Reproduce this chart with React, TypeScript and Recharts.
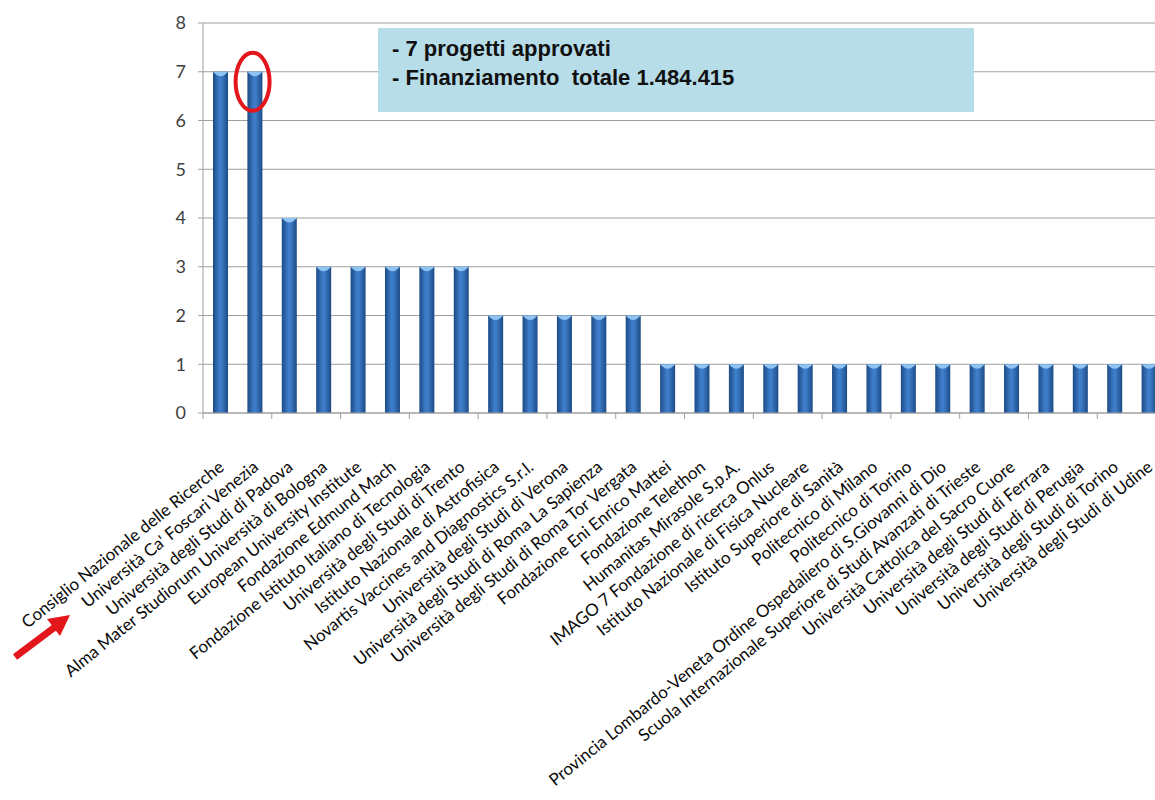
import React from "react";
import { BarChart, Bar, XAxis, YAxis, CartesianGrid, ReferenceDot } from "recharts";

// enti beneficiari, in ordine di numero di progetti
const enti = [
  "Consiglio Nazionale delle Ricerche",
  "Università Ca' Foscari Venezia",
  "Università degli Studi di Padova",
  "Alma Mater Studiorum Università di Bologna",
  "European University Institute",
  "Fondazione Edmund Mach",
  "Fondazione Istituto Italiano di Tecnologia",
  "Università degli Studi di Trento",
  "Istituto Nazionale di Astrofisica",
  "Novartis Vaccines and Diagnostics S.r.l.",
  "Università degli Studi di Verona",
  "Università degli Studi di Roma La Sapienza",
  "Università degli Studi di Roma Tor Vergata",
  "Fondazione Eni Enrico Mattei",
  "Fondazione Telethon",
  "Humanitas Mirasole S.p.A.",
  "IMAGO 7 Fondazione di ricerca Onlus",
  "Istituto Nazionale di Fisica Nucleare",
  "Istituto Superiore di Sanità",
  "Politecnico di Milano",
  "Politecnico di Torino",
  "Provincia Lombardo-Veneta Ordine Ospedaliero di S.Giovanni di Dio",
  "Scuola Internazionale Superiore di Studi Avanzati di Trieste",
  "Università Cattolica del Sacro Cuore",
  "Università degli Studi di Ferrara",
  "Università degli Studi di Perugia",
  "Università degli Studi di Torino",
  "Università degli Studi di Udine",
];

const progetti = [7, 7, 4, 3, 3, 3, 3, 3, 2, 2, 2, 2, 2, 1, 1, 1, 1, 1, 1, 1, 1, 1, 1, 1, 1, 1, 1, 1];

const yTicks = [0, 1, 2, 3, 4, 5, 6, 7, 8];

const boxLines = ["- 7 progetti approvati", "- Finanziamento  totale 1.484.415"];

const data = enti.map((name, i) => ({ name, progetti: progetti[i] }));

const AXIS = "#a0a0a0";

// bar with the excel-ish bevel on top
function BevelBar(props: any) {
  const { x, y, width, height } = props;
  if (!height || height <= 0) return null;
  return (
    <g>
      <rect x={x} y={y} width={width} height={height} fill="url(#barGrad)" />
      <path
        d={`M${x},${y} L${x + width},${y} L${x + width - 2},${y + 2} Q${x + width / 2},${y + 7} ${x + 2},${y + 2} Z`}
        fill="#8ec3f2"
      />
    </g>
  );
}

function CategoryTick(props: any) {
  const { x, y, payload, index } = props;
  const half = payload?.offset ?? 17.2;
  return (
    <g>
      {index % 2 === 0 && (
        <line x1={x - half} y1={y} x2={x - half} y2={y + 6} stroke={AXIS} />
      )}
      <text
        x={0}
        y={0}
        transform={`translate(${x + 5},${y + 56}) rotate(-39)`}
        textAnchor="end"
        fontFamily="Lato, sans-serif"
        fontSize={17}
        fill="#0a0a0a"
      >
        {payload.value}
      </text>
    </g>
  );
}

function Circle(props: any) {
  const { cx, cy } = props;
  return (
    <ellipse cx={cx - 2} cy={cy + 10} rx={17} ry={29} fill="none" stroke="#e3161b" strokeWidth={4} />
  );
}

export default function App() {
  return (
    <div
      style={{
        position: "fixed",
        left: 0,
        top: 0,
        width: 1155,
        height: 800,
        overflow: "hidden",
        background: "#fff",
      }}
    >
      <BarChart
        width={1180}
        height={800}
        data={data}
        margin={{ top: 23, right: 14, bottom: 7, left: 0 }}
        barSize={15}
      >
        <defs>
          <linearGradient id="barGrad" x1="0" y1="0" x2="1" y2="0">
            <stop offset="0%" stopColor="#1c4a85" />
            <stop offset="45%" stopColor="#3f7fcc" />
            <stop offset="60%" stopColor="#3a78c2" />
            <stop offset="100%" stopColor="#1c4a85" />
          </linearGradient>
        </defs>
        <CartesianGrid vertical={false} stroke={AXIS} />
        <XAxis
          dataKey="name"
          interval={0}
          height={380}
          tickSize={0}
          tickMargin={0}
          tickLine={false}
          axisLine={{ stroke: AXIS }}
          tick={<CategoryTick />}
        />
        <YAxis
          width={203}
          domain={[0, 8]}
          ticks={yTicks}
          interval={0}
          tickSize={5}
          tickMargin={12}
          axisLine={{ stroke: AXIS }}
          tickLine={{ stroke: AXIS }}
          tick={{ fill: "#404040", fontSize: 18, fontFamily: "Lato, sans-serif" }}
        />
        <Bar dataKey="progetti" isAnimationActive={false} shape={<BevelBar />} />
        <ReferenceDot x={enti[1]} y={progetti[1]} shape={<Circle />} />
      </BarChart>

      <div
        style={{
          position: "absolute",
          left: 378,
          top: 28,
          width: 596,
          height: 84,
          boxSizing: "border-box",
          background: "#b7dde8",
          padding: "6px 0 0 14px",
          fontFamily: "'Liberation Sans', Arial, sans-serif",
          fontWeight: "bold",
          fontSize: 22,
          lineHeight: "29px",
          color: "#111",
          whiteSpace: "pre",
        }}
      >
        {boxLines.map((l) => (
          <div key={l}>{l}</div>
        ))}
      </div>

      <svg
        width={1155}
        height={800}
        style={{ position: "absolute", left: 0, top: 0, pointerEvents: "none" }}
      >
        <line x1={15} y1={657} x2={55} y2={627} stroke="#e3161b" strokeWidth={7} />
        <polygon points="70,615 47,619 60,636" fill="#e3161b" />
      </svg>
    </div>
  );
}
